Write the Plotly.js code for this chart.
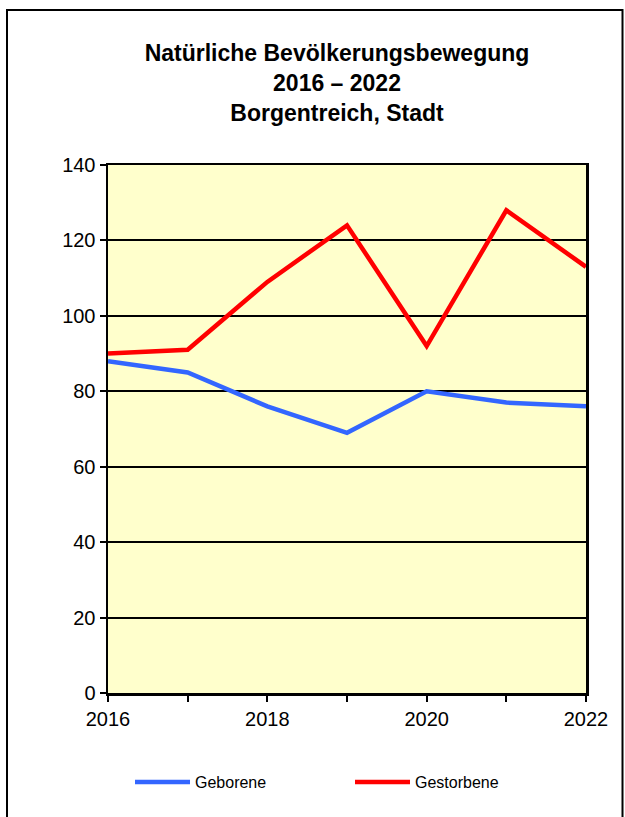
<!DOCTYPE html>
<html>
<head>
<meta charset="utf-8">
<script src="https://cdn.plot.ly/plotly-3.0.1.min.js"></script>
<style>
  html, body { margin: 0; padding: 0; background: #ffffff; }
  #chart { width: 625px; height: 817px; }
</style>
</head>
<body>
<div id="chart"></div>
<script>
const years = [2016, 2017, 2018, 2019, 2020, 2021, 2022];
const geborene = [88, 85, 76, 69, 80, 77, 76];
const gestorbene = [90, 91, 109, 124, 92, 128, 113];
const seriesNames = ['Geborene', 'Gestorbene'];
const xTickVals = [2016, 2017, 2018, 2019, 2020, 2021, 2022];
const xTickText = ['2016', '', '2018', '', '2020', '', '2022'];
const yTickVals = [0, 20, 40, 60, 80, 100, 120, 140];
const titleText = 'Natürliche Bevölkerungsbewegung<br>2016 – 2022<br>Borgentreich, Stadt';

const W = 625, H = 817;
const m = { l: 108, r: 39, t: 165, b: 124 };
const pw = W - m.l - m.r, ph = H - m.t - m.b;
function px(x) { return (x - m.l) / pw; }
function py(y) { return (H - m.b - y) / ph; }

const traces = [
  { x: years, y: geborene, name: seriesNames[0], type: 'scatter', mode: 'lines',
    line: { color: '#3366FF', width: 4.5 } },
  { x: years, y: gestorbene, name: seriesNames[1], type: 'scatter', mode: 'lines',
    line: { color: '#FF0000', width: 4.5 } }
];

const layout = {
  width: W, height: H,
  margin: m,
  paper_bgcolor: '#ffffff',
  plot_bgcolor: '#FFFFCC',
  font: { family: 'Liberation Sans, Arial, sans-serif', color: '#000000' },
  title: {
    text: titleText,
    font: { family: 'Liberation Sans, Arial, sans-serif', size: 23, color: '#000000', weight: 'bold' },
    x: 337 / W, xanchor: 'center', xref: 'container',
    y: 1 - 61 / H, yanchor: 'middle', yref: 'container'
  },
  xaxis: {
    range: [2016, 2022],
    tickmode: 'array', tickvals: xTickVals, ticktext: xTickText,
    ticks: 'outside', ticklen: 6, tickwidth: 2, tickcolor: '#000000',
    showline: true, linecolor: '#000000', linewidth: 2.5, mirror: true,
    showgrid: false, zeroline: false,
    tickfont: { size: 20 }, fixedrange: true
  },
  yaxis: {
    range: [0, 140],
    tickmode: 'array', tickvals: yTickVals,
    ticks: 'outside', ticklen: 6, tickwidth: 2, tickcolor: '#000000',
    showline: true, linecolor: '#000000', linewidth: 2.5, mirror: true,
    showgrid: true, gridcolor: '#000000', gridwidth: 2, zeroline: false,
    tickfont: { size: 20 }, fixedrange: true
  },
  showlegend: true,
  legend: {
    orientation: 'h',
    x: px(130), xanchor: 'left',
    y: py(782), yanchor: 'middle',
    font: { size: 16, color: '#000000' },
    itemwidth: 55,
    entrywidth: 150, entrywidthmode: 'pixels',
    bgcolor: 'rgba(0,0,0,0)'
  },
  shapes: [
    { type: 'rect', xref: 'paper', yref: 'paper',
      x0: px(7), x1: px(622.5), y0: py(840), y1: py(10),
      line: { color: '#000000', width: 2 }, fillcolor: 'rgba(0,0,0,0)', layer: 'below' }
  ]
};

Plotly.newPlot('chart', traces, layout, { staticPlot: true, displayModeBar: false });
</script>
</body>
</html>
